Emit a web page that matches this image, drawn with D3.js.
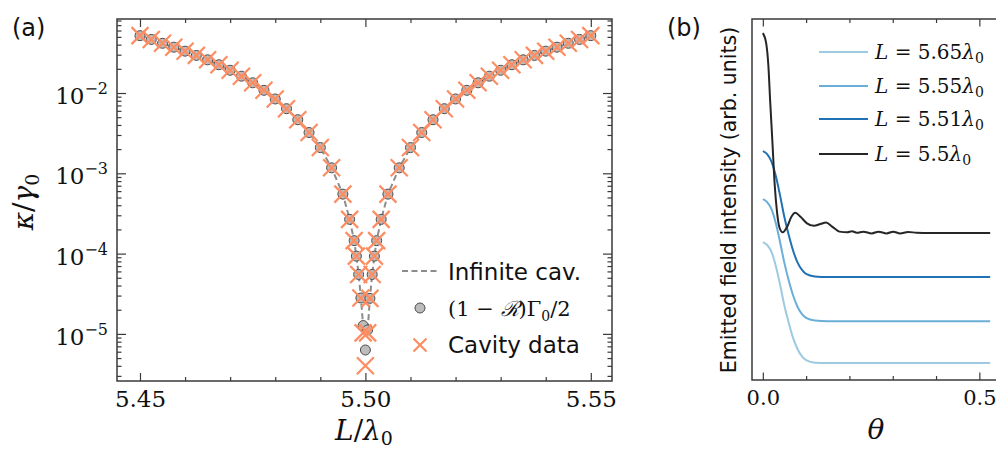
<!DOCTYPE html>
<html><head><meta charset="utf-8">
<script src="https://cdn.jsdelivr.net/npm/d3@7"></script>
<style>body{margin:0;background:#fff}svg{display:block}</style>
</head><body>
<svg id="c" width="996" height="450"></svg>
<script>
// ---------------- DATA ----------------
// Panel (a): cavity length L / lambda0
const lengthL = [5.45,5.4525,5.455,5.4575,5.46,5.4625,5.465,5.4675,5.47,5.4725,5.475,5.4775,5.48,5.4825,5.485,5.4875,5.49,5.4925,5.495,
  5.4965,5.4975,5.498,5.4985,5.499,5.4995,5.5,5.5005,5.501,5.5015,5.502,5.5025,5.5035,
  5.505,5.5075,5.51,5.5125,5.515,5.5175,5.52,5.5225,5.525,5.5275,5.53,5.5325,5.535,5.5375,5.54,5.5425,5.545,5.5475,5.55];
// (1 - R) Gamma0 / 2  (grey circles)
const reflLoss = [0.0518,0.0465,0.0416,0.0372,0.0332,0.0294,0.0259,0.0225,0.0192,0.0162,0.0134,0.0108,0.00843,0.00638,0.00465,0.00322,0.00209,0.00117,0.00055,
  2.67e-4,1.45e-4,9.3e-5,5.5e-5,2.8e-5,1.27e-5,6.3e-6,1.12e-5,2.77e-5,5.5e-5,9.3e-5,1.45e-4,2.67e-4,
  0.00055,0.00117,0.00209,0.00322,0.00465,0.00638,0.00843,0.0108,0.0134,0.0162,0.0192,0.0225,0.0259,0.0294,0.0332,0.0372,0.0416,0.0465,0.0518];
// Cavity data (orange crosses)
const cavityData = [0.0518,0.0465,0.0416,0.0372,0.0332,0.0294,0.0259,0.0225,0.0192,0.0162,0.0134,0.0108,0.00843,0.00638,0.00465,0.00322,0.00209,0.00117,0.00055,
  2.67e-4,1.45e-4,9.3e-5,5.5e-5,2.8e-5,1.03e-5,4.0e-6,1.03e-5,2.77e-5,5.5e-5,9.3e-5,1.45e-4,2.67e-4,
  0.00055,0.00117,0.00209,0.00322,0.00465,0.00638,0.00843,0.0108,0.0134,0.0162,0.0192,0.0225,0.0259,0.0294,0.0332,0.0372,0.0416,0.0465,0.0518];
// Infinite cavity (dashed)
const infCavL = [5.45,5.4525,5.455,5.4575,5.46,5.4625,5.465,5.4675,5.47,5.4725,5.475,5.4775,5.48,5.4825,5.485,5.4875,5.49,5.4925,5.495,
  5.4965,5.4975,5.498,5.4985,5.499,5.4995,5.5005,5.501,5.5015,5.502,5.5025,5.5035,
  5.505,5.5075,5.51,5.5125,5.515,5.5175,5.52,5.5225,5.525,5.5275,5.53,5.5325,5.535,5.5375,5.54,5.5425,5.545,5.5475,5.55];
const infCav = [0.0518,0.0465,0.0416,0.0372,0.0332,0.0294,0.0259,0.0225,0.0192,0.0162,0.0134,0.0108,0.00843,0.00638,0.00465,0.00322,0.00209,0.00117,0.00055,
  2.67e-4,1.45e-4,9.3e-5,5.5e-5,2.8e-5,1.27e-5,1.12e-5,2.77e-5,5.5e-5,9.3e-5,1.45e-4,2.67e-4,
  0.00055,0.00117,0.00209,0.00322,0.00465,0.00638,0.00843,0.0108,0.0134,0.0162,0.0192,0.0225,0.0259,0.0294,0.0332,0.0372,0.0416,0.0465,0.0518];
const xTicksA = [5.45,5.50,5.55];
const xTickLabelsA = ["5.45","5.50","5.55"];
const yTicksA = [1e-5,1e-4,1e-3,1e-2];
const yTickExpA = ["−5","−4","−3","−2"];

// Panel (b): emitted field intensity vs theta
const thetaBlue = [0,0.01,0.02,0.03,0.04,0.05,0.06,0.07,0.08,0.09,0.10,0.12,0.15,0.2,0.3,0.4,0.525];
const int565 = [0.382,0.374,0.355,0.316,0.263,0.205,0.158,0.116,0.086,0.066,0.055,0.048,0.047,0.047,0.047,0.047,0.047];
const int555 = [0.501,0.493,0.473,0.434,0.381,0.323,0.275,0.234,0.203,0.183,0.172,0.165,0.163,0.163,0.163,0.163,0.163];
const int551 = [0.634,0.626,0.605,0.565,0.510,0.450,0.401,0.358,0.326,0.306,0.294,0.287,0.285,0.285,0.285,0.285,0.285];
const thetaBlack = [0,0.0076,0.0129,0.0168,0.0219,0.0277,0.033,0.038,0.046,0.056,0.066,0.075,0.087,0.102,0.118,0.133,0.146,0.160,0.177,0.195,0.206,0.217,0.232,0.2515,0.267,0.286,0.301,0.317,0.335,0.355,0.386,0.45,0.525];
const int550 = [0.961,0.934,0.869,0.776,0.665,0.536,0.463,0.424,0.409,0.424,0.452,0.463,0.452,0.434,0.427,0.432,0.436,0.425,0.411,0.409,0.412,0.408,0.411,0.406,0.411,0.406,0.411,0.406,0.410,0.408,0.407,0.407,0.407];
const legendB = ["5.65","5.55","5.51","5.5"];
const xTicksB = [0,0.5];
const xTickLabelsB = ["0.0","0.5"];

// ---------------- DRAW ----------------
const svg = d3.select("#c");
const serif = "'DejaVu Serif', serif";
const sans = "'DejaVu Sans', sans-serif";
const spineCol = "#3a3a3a";

// ===== Panel (a) =====
const A = {l:117, r:612, t:19, b:381};
const xA = d3.scaleLinear().domain([5.4449, 5.5547]).range([A.l, A.r]);
const yA = d3.scaleLog().domain([2.59e-6, 0.0835]).range([A.b, A.t]);
const gA = svg.append("g");

const minorX = d3.range(5.45, 5.5501, 0.01).filter(v => !xTicksA.some(t => Math.abs(t - v) < 1e-6));
const minorY = [];
for (let e = -6; e <= -2; e++) for (let m = 2; m <= 9; m++) { const v = m * Math.pow(10, e); if (v > 2.59e-6 && v < 0.0835) minorY.push(v); }

function styleAxis(g) {
  g.select(".domain").remove();
  g.selectAll("line").attr("stroke", spineCol).attr("stroke-width", 1.2);
}
// bottom
gA.append("g").attr("transform", `translate(0,${A.b})`)
  .call(d3.axisBottom(xA).tickValues(xTicksA).tickSize(-8).tickPadding(6).tickFormat((d,i)=>xTickLabelsA[i]))
  .call(styleAxis)
  .call(g => g.selectAll("text").attr("font-family", serif).attr("font-size", 23).attr("fill", "#111").attr("dy", "0.88em"));
gA.append("g").attr("transform", `translate(0,${A.b})`)
  .call(d3.axisBottom(xA).tickValues(minorX).tickSize(-4).tickFormat("")).call(styleAxis);
// top
gA.append("g").attr("transform", `translate(0,${A.t})`)
  .call(d3.axisTop(xA).tickValues(xTicksA).tickSize(-8).tickFormat("")).call(styleAxis);
gA.append("g").attr("transform", `translate(0,${A.t})`)
  .call(d3.axisTop(xA).tickValues(minorX).tickSize(-4).tickFormat("")).call(styleAxis);
// left
gA.append("g").attr("transform", `translate(${A.l},0)`)
  .call(d3.axisLeft(yA).tickValues(yTicksA).tickSize(-9).tickFormat("")).call(styleAxis);
gA.append("g").attr("transform", `translate(${A.l},0)`)
  .call(d3.axisLeft(yA).tickValues(minorY).tickSize(-4.5).tickFormat("")).call(styleAxis);
// right
gA.append("g").attr("transform", `translate(${A.r},0)`)
  .call(d3.axisRight(yA).tickValues(yTicksA).tickSize(-9).tickFormat("")).call(styleAxis);
gA.append("g").attr("transform", `translate(${A.r},0)`)
  .call(d3.axisRight(yA).tickValues(minorY).tickSize(-4.5).tickFormat("")).call(styleAxis);
// y tick labels 10^k
yTicksA.forEach((v, i) => {
  const t = gA.append("text").attr("x", A.l - 9).attr("y", yA(v) + 11).attr("text-anchor", "end")
    .attr("font-family", serif).attr("fill", "#111");
  t.append("tspan").attr("font-size", 23).text("10");
  t.append("tspan").attr("font-size", 16).attr("dy", -10).text(yTickExpA[i]);
});
// spines
gA.append("rect").attr("x", A.l).attr("y", A.t).attr("width", A.r - A.l).attr("height", A.b - A.t)
  .attr("fill", "none").attr("stroke", spineCol).attr("stroke-width", 1.5);

// dashed infinite cavity
gA.append("path").datum(infCavL.map((l, i) => [l, infCav[i]]))
  .attr("d", d3.line().x(d => xA(d[0])).y(d => yA(d[1])))
  .attr("fill", "none").attr("stroke", "#8c8c8c").attr("stroke-width", 2).attr("stroke-dasharray", "6,3.5");
// circles
gA.append("g").selectAll("circle").data(lengthL.map((l, i) => [l, reflLoss[i]])).join("circle")
  .attr("cx", d => xA(d[0])).attr("cy", d => yA(d[1])).attr("r", 5)
  .attr("fill", "#bcbcbc").attr("stroke", "#4d4d4d").attr("stroke-width", 1);
// crosses
const crossPath = (s) => `M${-s},${-s}L${s},${s}M${-s},${s}L${s},${-s}`;
gA.append("g").selectAll("path").data(lengthL.map((l, i) => [l, cavityData[i]])).join("path")
  .attr("transform", d => `translate(${xA(d[0])},${yA(d[1])})`)
  .attr("d", crossPath(8.5)).attr("stroke", "#fc8d62").attr("stroke-width", 2.2).attr("fill", "none");

// legend (a)
const lgA = gA.append("g");
lgA.append("line").attr("x1", 402).attr("x2", 437).attr("y1", 271).attr("y2", 271)
  .attr("stroke", "#8c8c8c").attr("stroke-width", 2).attr("stroke-dasharray", "6,3.5");
lgA.append("text").attr("x", 448).attr("y", 280).attr("font-family", sans).attr("font-size", 23).attr("fill", "#111").text("Infinite cav.");
lgA.append("circle").attr("cx", 420).attr("cy", 308).attr("r", 5).attr("fill", "#bcbcbc").attr("stroke", "#4d4d4d");
const t2 = lgA.append("text").attr("x", 448).attr("y", 316).attr("font-family", serif).attr("font-size", 21).attr("fill", "#111");
t2.append("tspan").text("(1 − ");
t2.append("tspan").attr("font-style", "italic").text("ℛ");
t2.append("tspan").text(")Γ");
t2.append("tspan").attr("font-size", 14).attr("dy", 5).text("0");
t2.append("tspan").attr("dy", -5).text("/2");
lgA.append("path").attr("transform", "translate(420,345)").attr("d", crossPath(6.5))
  .attr("stroke", "#fc8d62").attr("stroke-width", 2.2).attr("fill", "none");
lgA.append("text").attr("x", 448).attr("y", 353).attr("font-family", sans).attr("font-size", 23).attr("fill", "#111").text("Cavity data");

// axis labels (a)
const xl = gA.append("text").attr("x", 364).attr("y", 440).attr("text-anchor", "middle")
  .attr("font-family", serif).attr("font-size", 28).attr("fill", "#111");
xl.append("tspan").attr("font-style", "italic").text("L");
xl.append("tspan").text("/");
xl.append("tspan").attr("font-style", "italic").text("λ");
xl.append("tspan").attr("font-size", 19).attr("dy", 5).text("0");
const yl = gA.append("text").attr("transform", "translate(33,202) rotate(-90)").attr("text-anchor", "middle")
  .attr("font-family", serif).attr("font-size", 28).attr("fill", "#111");
yl.append("tspan").attr("font-style", "italic").text("κ");
yl.append("tspan").text("/");
yl.append("tspan").attr("font-style", "italic").text("γ");
yl.append("tspan").attr("font-size", 19).attr("dy", 6).text("0");
svg.append("text").attr("x", 12).attr("y", 36).attr("font-family", sans).attr("font-size", 24).attr("fill", "#111").text("(a)");

// ===== Panel (b) =====
const B = {l:752, r:1001, t:19, b:380};
const xB = d3.scaleLinear().domain([-0.025, 0.55]).range([B.l, B.r]);
const yB = d3.scaleLinear().domain([0, 1]).range([B.b, B.t]);
const gB = svg.append("g");
const minorXB = [0.1, 0.2, 0.3, 0.4];
gB.append("g").attr("transform", `translate(0,${B.b})`)
  .call(d3.axisBottom(xB).tickValues(xTicksB).tickSize(-7.5).tickPadding(6).tickFormat((d,i)=>xTickLabelsB[i]))
  .call(styleAxis)
  .call(g => g.selectAll("text").attr("font-family", serif).attr("font-size", 21).attr("fill", "#111").attr("dy", "0.9em"));
gB.append("g").attr("transform", `translate(0,${B.b})`)
  .call(d3.axisBottom(xB).tickValues(minorXB).tickSize(-4).tickFormat("")).call(styleAxis);
gB.append("g").attr("transform", `translate(0,${B.t})`)
  .call(d3.axisTop(xB).tickValues(xTicksB).tickSize(-7.5).tickFormat("")).call(styleAxis);
gB.append("g").attr("transform", `translate(0,${B.t})`)
  .call(d3.axisTop(xB).tickValues(minorXB).tickSize(-4).tickFormat("")).call(styleAxis);
gB.append("rect").attr("x", B.l).attr("y", B.t).attr("width", B.r - B.l).attr("height", B.b - B.t)
  .attr("fill", "none").attr("stroke", spineCol).attr("stroke-width", 1.5);

const lineB = d3.line().x(d => xB(d[0])).y(d => yB(d[1])).curve(d3.curveMonotoneX);
const seriesB = [
  {th: thetaBlue, v: int565, c: "#9ecae1"},
  {th: thetaBlue, v: int555, c: "#6baed6"},
  {th: thetaBlue, v: int551, c: "#2171b5"},
  {th: thetaBlack, v: int550, c: "#262626"}
];
seriesB.forEach(s => {
  gB.append("path").datum(s.th.map((t, i) => [t, s.v[i]])).attr("d", lineB)
    .attr("fill", "none").attr("stroke", s.c).attr("stroke-width", 2);
});
// legend (b)
const legY = [52, 86, 119, 154];
seriesB.forEach((s, i) => {
  gB.append("line").attr("x1", 819).attr("x2", 868).attr("y1", legY[i]).attr("y2", legY[i])
    .attr("stroke", s.c).attr("stroke-width", 2);
  const t = gB.append("text").attr("x", 875).attr("y", legY[i] + 7).attr("font-family", serif)
    .attr("font-size", 20).attr("fill", "#111");
  t.append("tspan").attr("font-style", "italic").text("L");
  t.append("tspan").text(" = " + legendB[i]);
  t.append("tspan").attr("font-style", "italic").text("λ");
  t.append("tspan").attr("font-size", 14).attr("dy", 4).text("0");
});
// axis labels (b)
gB.append("text").attr("x", 876).attr("y", 439).attr("text-anchor", "middle")
  .attr("font-family", serif).attr("font-style", "italic").attr("font-size", 28).attr("fill", "#111").text("θ");
gB.append("text").attr("transform", "translate(736,200) rotate(-90)").attr("text-anchor", "middle")
  .attr("font-family", sans).attr("font-size", 20.5).attr("fill", "#111").text("Emitted field intensity (arb. units)");
svg.append("text").attr("x", 667).attr("y", 36).attr("font-family", sans).attr("font-size", 24).attr("fill", "#111").text("(b)");
</script>
</body></html>
